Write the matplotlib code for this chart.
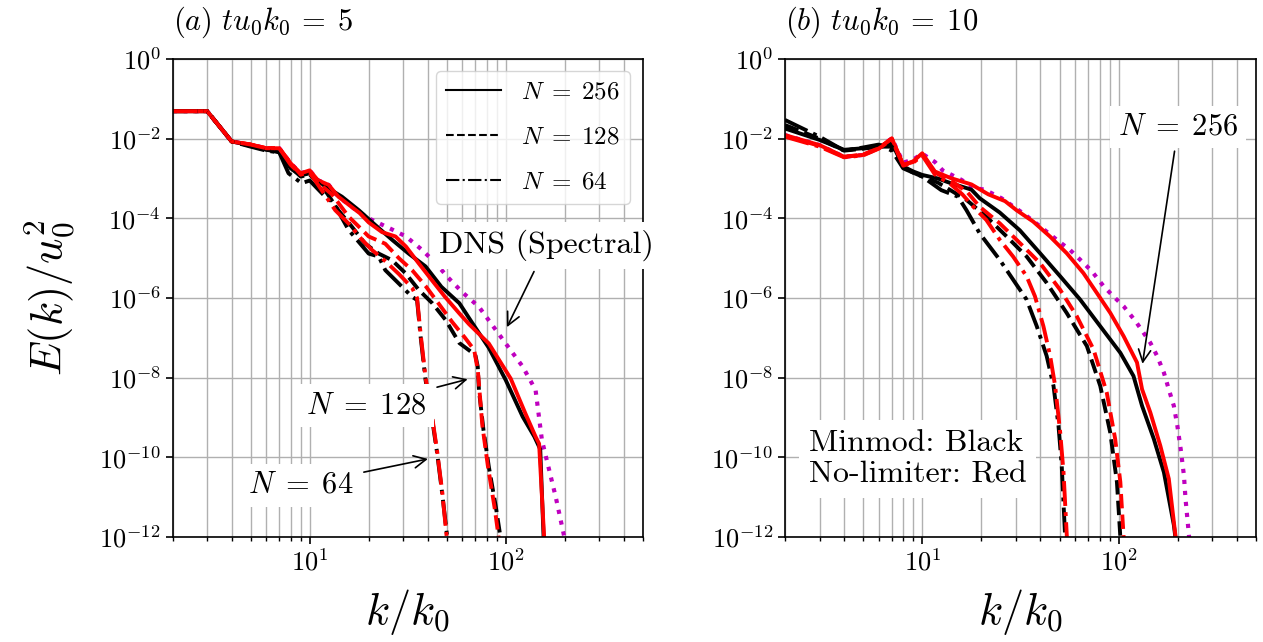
import matplotlib
matplotlib.use("Agg")
import matplotlib.pyplot as plt
from matplotlib.lines import Line2D
from matplotlib.ticker import NullFormatter, NullLocator, FixedLocator

plt.rcParams["mathtext.fontset"] = "cm"
plt.rcParams["font.family"] = ["cmr10", "DejaVu Serif"]
plt.rcParams["axes.formatter.use_mathtext"] = True
plt.rcParams["axes.linewidth"] = 1.2

# ---- panel (a): t u0 k0 = 5 ----
k_a_dns = [2, 3, 4, 5, 6, 7, 8, 9, 10, 11, 12.5, 14, 17, 20, 26, 31, 37.5, 44, 51, 60, 73, 100, 122, 142, 153, 180, 199, 205]
E_a_dns = [4.9e-2, 4.9e-2, 8.5e-3, 7.1e-3, 5.75e-3, 5.75e-3, 2.4e-3, 1.35e-3, 1.6e-3, 9.1e-4, 6.9e-4, 3.5e-4, 1.7e-4, 1.0e-4,
           5.4e-5, 3.5e-5, 1.6e-5, 7.4e-6, 3.2e-6, 1.4e-6, 6.0e-7, 7.2e-8, 1.9e-8, 4.9e-9, 2.7e-10, 1.0e-11, 1.0e-12, 4.0e-13]

k_a_256_mm = [2, 3, 4, 5, 6, 7, 8, 9, 10, 12, 14.6, 17.8, 21.6, 26.3, 32, 39, 47, 58, 67, 82, 100, 122, 140, 150, 156, 160]
E_a_256_mm = [4.9e-2, 4.9e-2, 8.5e-3, 6.8e-3, 5.4e-3, 4.5e-3, 1.8e-3, 1.2e-3, 1.35e-3, 6.3e-4, 3.5e-4, 1.6e-4, 6.8e-5,
              2.9e-5, 1.3e-5, 6.2e-6, 1.9e-6, 7.4e-7, 2.5e-7, 5.6e-8, 8.7e-9, 1.05e-9, 3.3e-10, 1.6e-10, 1.0e-12, 3.2e-13]
k_a_256_nl = [2, 3, 4, 5, 6, 7, 8, 9, 10, 11, 12.5, 14, 16, 18, 20, 23.4, 27.4, 31, 36, 42, 49, 58, 65, 82, 106, 126, 142, 148, 157, 160]
E_a_256_nl = [4.9e-2, 4.9e-2, 8.5e-3, 7.1e-3, 5.75e-3, 5.75e-3, 2.4e-3, 1.35e-3, 1.6e-3, 9.1e-4, 6.9e-4, 3.5e-4, 2.1e-4,
              1.35e-4, 7.9e-5, 4.5e-5, 3.5e-5, 1.95e-5, 7.4e-6, 2.8e-6, 1.07e-6, 4.1e-7, 2.2e-7, 7.2e-8, 9.5e-9, 1.26e-9,
              3.3e-10, 2.2e-10, 1.0e-12, 3.2e-13]

k_a_128_mm = [2, 3, 4, 5, 6, 7, 8, 9, 10, 12, 14, 16.4, 19.2, 22.5, 26.3, 30.8, 36, 42.2, 49.4, 58, 70, 72, 73, 77, 82, 89, 94, 96]
E_a_128_mm = [4.9e-2, 4.9e-2, 8.5e-3, 6.6e-3, 5.25e-3, 4.7e-3, 1.9e-3, 1.12e-3, 1.26e-3, 5.0e-4, 1.6e-4, 6.2e-5, 2.3e-5,
              1.3e-5, 8.9e-6, 4.2e-6, 1.6e-6, 7.4e-7, 2.8e-7, 7.4e-8, 3.7e-8, 1.9e-8, 4.9e-9, 4.9e-10, 5.8e-11, 5.8e-12,
              1.0e-12, 3.2e-13]
k_a_128_nl = [2, 3, 4, 5, 6, 7, 8, 9, 10, 11, 13, 15.8, 17.8, 20, 24.3, 28.5, 33.3, 39, 45.6, 53.3, 62, 69, 72, 76, 81, 88, 92, 94]
E_a_128_nl = [4.9e-2, 4.9e-2, 8.5e-3, 7.1e-3, 5.75e-3, 5.75e-3, 2.4e-3, 1.26e-3, 1.5e-3, 7.9e-4, 4.0e-4, 1.1e-4, 6.2e-5,
              3.5e-5, 2.3e-5, 1.0e-5, 5.0e-6, 2.0e-6, 7.1e-7, 2.5e-7, 1.0e-7, 5.0e-8, 1.6e-8, 6.3e-10, 6.3e-11, 5.0e-12,
              1.0e-12, 3.2e-13]

k_a_64_mm = [2, 3, 4, 5, 6, 7, 7.8, 9.1, 10, 12, 13.2, 15.8, 20, 22.5, 24.3, 28.5, 33.3, 35.3, 36.8, 39, 42.2, 44.7, 47.4, 50.3, 51]
E_a_64_mm = [4.9e-2, 4.9e-2, 8.5e-3, 6.3e-3, 5.0e-3, 4.5e-3, 1.35e-3, 7.6e-4, 8.9e-4, 3.5e-4, 2.5e-4, 5.1e-5, 1.3e-5,
             1.1e-5, 5.0e-6, 2.3e-6, 1.07e-6, 8.9e-7, 1.07e-7, 8.7e-9, 8.7e-10, 1.26e-10, 1.26e-11, 1.0e-12, 4.0e-13]
k_a_64_nl = [2, 3, 4, 5, 6, 7, 8, 9, 10, 11, 13.5, 15.8, 18.5, 20.8, 23.4, 28.5, 33.3, 35.3, 36.8, 39, 42.2, 44.7, 47.4, 50, 51]
E_a_64_nl = [4.9e-2, 4.9e-2, 8.5e-3, 7.1e-3, 5.75e-3, 5.75e-3, 2.2e-3, 1.26e-3, 1.4e-3, 7.1e-4, 1.6e-4, 7.4e-5, 2.9e-5,
             1.6e-5, 1.0e-5, 4.0e-6, 1.8e-6, 1.0e-6, 1.26e-7, 1.0e-8, 1.0e-9, 1.4e-10, 1.4e-11, 1.0e-12, 4.0e-13]

# ---- panel (b): t u0 k0 = 10 ----
k_b_dns = [2, 3, 4, 5, 6, 7, 8, 9, 10, 11.6, 12.7, 15.8, 18.5, 20.8, 25.3, 32.7, 39, 48.4, 56.6, 65, 73, 84, 94, 106,
           122, 134, 145, 157, 170, 180, 191, 199, 207, 215, 219, 228, 232]
E_b_dns = [1.23e-2, 6.9e-3, 3.5e-3, 3.9e-3, 5.75e-3, 1.02e-2, 2.5e-3, 3.0e-3, 4.2e-3, 2.6e-3, 1.6e-3, 9.3e-4, 5.75e-4,
           5.25e-4, 3.2e-4, 1.33e-4, 6.8e-5, 2.9e-5, 1.6e-5, 8.3e-6, 4.7e-6, 1.95e-6, 1.1e-6, 6.2e-7, 2.6e-7, 1.33e-7,
           7.5e-8, 3.5e-8, 1.33e-8, 5.1e-9, 1.95e-9, 6.2e-10, 1.6e-10, 3.5e-11, 9.1e-12, 1.1e-12, 4.0e-13]

k_b_256_mm = [2, 3, 4, 5, 6, 7, 8, 9, 10, 12, 14, 17.8, 19.6, 24.8, 31.4, 39.8, 50.4, 63.7, 80.6, 102, 119, 131.6, 151, 170, 191, 199]
E_b_256_mm = [1.8e-2, 9.3e-3, 5.25e-3, 5.75e-3, 6.6e-3, 7.8e-3, 2.0e-3, 1.5e-3, 1.23e-3, 1.0e-3, 7.6e-4, 5.25e-4, 3.2e-4,
              1.4e-4, 5.0e-5, 1.33e-5, 3.5e-6, 9.1e-7, 1.95e-7, 4.2e-8, 1.1e-8, 1.95e-9, 2.9e-10, 4.2e-11, 2.0e-12, 4.0e-13]
k_b_256_nl = [2, 3, 4, 5, 6, 7, 8, 9, 10, 11.6, 14, 17.8, 21.7, 26.4, 30.2, 36.7, 44.7, 54.4, 66.2, 77.5, 90.7, 106, 124,
              131.6, 145, 163, 180, 195, 199]
E_b_256_nl = [1.23e-2, 6.9e-3, 3.5e-3, 3.9e-3, 5.75e-3, 1.02e-2, 2.2e-3, 2.7e-3, 4.3e-3, 1.5e-3, 1.02e-3, 7.1e-4, 4.0e-4,
              2.7e-4, 1.6e-4, 8.3e-5, 3.5e-5, 1.33e-5, 4.2e-6, 1.33e-6, 4.2e-7, 1.1e-7, 2.4e-8, 5.1e-9, 1.33e-9, 1.95e-10,
              2.9e-11, 1.0e-12, 4.0e-13]

k_b_128_mm = [2, 3, 4, 5, 6, 7, 8, 9, 10, 12, 14, 16.8, 21.2, 26.9, 34, 43, 54.4, 68.9, 80.6, 90.6, 98, 102, 104]
E_b_128_mm = [2.2e-2, 1.0e-2, 5.0e-3, 5.6e-3, 6.3e-3, 6.3e-3, 1.9e-3, 1.4e-3, 1.12e-3, 7.9e-4, 5.0e-4, 2.9e-4, 1.1e-4,
              3.5e-5, 1.1e-5, 2.4e-6, 4.2e-7, 6.2e-8, 6.2e-9, 4.2e-10, 2.4e-11, 1.0e-12, 4.0e-13]
k_b_128_nl = [2, 3, 4, 5, 6, 7, 8, 9, 10, 11.6, 14, 17, 19.6, 24.8, 31.4, 39.8, 50.4, 61.2, 74.5, 87, 96, 102, 106, 108]
E_b_128_nl = [1.17e-2, 6.6e-3, 3.5e-3, 4.0e-3, 5.75e-3, 1.0e-2, 2.2e-3, 2.6e-3, 4.0e-3, 1.4e-3, 8.9e-4, 4.5e-4, 1.95e-4,
              7.5e-5, 2.4e-5, 7.5e-6, 1.6e-6, 3.5e-7, 5.1e-8, 4.2e-9, 2.9e-10, 2.4e-11, 1.0e-12, 4.0e-13]

k_b_64_mm = [2, 3, 4, 5, 6, 7, 8, 9, 10, 12.5, 15.2, 16.8, 19.6, 24.8, 29, 34, 38.3, 43, 46.6, 49.4, 51.3, 53.4, 54]
E_b_64_mm = [2.95e-2, 1.12e-2, 5.0e-3, 6.0e-3, 7.1e-3, 5.0e-3, 1.8e-3, 1.4e-3, 1.12e-3, 5.1e-4, 3.5e-4, 1.6e-4, 4.2e-5,
             9.1e-6, 2.9e-6, 9.1e-7, 1.95e-7, 3.5e-8, 6.2e-9, 6.2e-10, 6.3e-11, 1.0e-12, 4.0e-13]
k_b_64_nl = [2, 3, 4, 5, 6, 7, 8, 9, 10, 11.6, 14, 16, 18.2, 21.2, 24.8, 29, 34, 37.5, 41.4, 44.8, 47.5, 50.4, 52.4, 54.5, 55]
E_b_64_nl = [1.12e-2, 6.3e-3, 3.4e-3, 3.8e-3, 5.6e-3, 9.5e-3, 2.1e-3, 2.5e-3, 3.8e-3, 1.26e-3, 7.1e-4, 4.0e-4, 1.95e-4,
             9.1e-5, 2.9e-5, 1.1e-5, 3.5e-6, 1.1e-6, 1.95e-7, 3.5e-8, 6.2e-9, 4.2e-10, 4.2e-11, 1.0e-12, 4.0e-13]

y_ticks = [1e0, 1e-2, 1e-4, 1e-6, 1e-8, 1e-10, 1e-12]
legend_labels = [r"$N\;=\;256$", r"$N\;=\;128$", r"$N\;=\;64$"]
titles = [r"$(a)\ tu_0k_0\,=\;5$", r"$(b)\ tu_0k_0\,=\;10$"]

LW = 2.8


def setup_axes(ax, title):
    ax.set_xscale("log")
    ax.set_yscale("log")
    ax.set_xlim(2, 500)
    ax.set_ylim(1e-12, 1)
    ax.yaxis.set_major_locator(FixedLocator(y_ticks))
    ax.yaxis.set_minor_locator(NullLocator())
    ax.xaxis.set_minor_formatter(NullFormatter())
    ax.tick_params(labelsize=19, width=1.2, length=5)
    ax.tick_params(which="minor", width=1.0, length=3)
    ax.grid(True, which="major", color="#b0b0b0", lw=1.0)
    ax.grid(True, which="minor", axis="x", color="#b0b0b0", lw=1.0)
    ax.set_axisbelow(True)
    ax.set_title(title, loc="left", fontsize=22, pad=21)
    ax.set_xlabel("$k/k_0$", fontsize=32, labelpad=8)


def draw_curves(ax, dns, runs):
    ax.plot(dns[0], dns[1], ls=":", color="m", lw=3)
    for (k_mm, E_mm, k_nl, E_nl), ls in zip(runs, ["-", "--", "-."]):
        ax.plot(k_mm, E_mm, ls=ls, color="k", lw=LW)
        ax.plot(k_nl, E_nl, ls=ls, color="r", lw=LW)


fig = plt.figure(figsize=(12.63, 6.42), dpi=100)
ax1 = fig.add_axes([0.1367, 0.1636, 0.3722, 0.7445])
ax2 = fig.add_axes([0.6215, 0.1636, 0.3729, 0.7445])

box = dict(boxstyle="square,pad=0.25", fc="white", ec="none")
arrow = dict(arrowstyle="->", color="k", lw=1.2)

# (a)
setup_axes(ax1, titles[0])
draw_curves(ax1, (k_a_dns, E_a_dns),
            [(k_a_256_mm, E_a_256_mm, k_a_256_nl, E_a_256_nl),
             (k_a_128_mm, E_a_128_mm, k_a_128_nl, E_a_128_nl),
             (k_a_64_mm, E_a_64_mm, k_a_64_nl, E_a_64_nl)])
ax1.set_ylabel("$E(k)/u_0^2$", fontsize=32, labelpad=16)

handles = [Line2D([], [], color="k", lw=1.5, ls=s) for s in ["-", "--", "-."]]
ax1.legend(handles, legend_labels, loc="upper right", fontsize=18,
           handlelength=2.2, labelspacing=0.9)

ax1.annotate("DNS (Spectral)", xy=(100, 1.6e-7), xytext=(162, 2.1e-5),
             fontsize=23, ha="center", va="center", bbox=box, arrowprops=arrow,
             annotation_clip=False, zorder=6)
ax1.annotate(r"$N\;=\;128$", xy=(66, 9.5e-9), xytext=(19.5, 2.0e-9),
             fontsize=22, ha="center", va="center", bbox=box, arrowprops=arrow)
ax1.annotate(r"$N\;=\;64$", xy=(41.4, 9.4e-11), xytext=(9.0, 2.0e-11),
             fontsize=22, ha="center", va="center", bbox=box, arrowprops=arrow)

# (b)
setup_axes(ax2, titles[1])
draw_curves(ax2, (k_b_dns, E_b_dns),
            [(k_b_256_mm, E_b_256_mm, k_b_256_nl, E_b_256_nl),
             (k_b_128_mm, E_b_128_mm, k_b_128_nl, E_b_128_nl),
             (k_b_64_mm, E_b_64_mm, k_b_64_nl, E_b_64_nl)])

ax2.annotate(r"$N\;=\;256$", xy=(131.6, 1.9e-8), xytext=(201, 1.95e-2),
             fontsize=22, ha="center", va="center", bbox=box, arrowprops=arrow)
ax2.text(0.05, 0.163, "Minmod: Black\nNo-limiter: Red", transform=ax2.transAxes,
         fontsize=23, ha="left", va="center", linespacing=1.2,
         bbox=dict(boxstyle="square,pad=0.3", fc="white", ec="none"))

fig.savefig("out.png", dpi=100)
